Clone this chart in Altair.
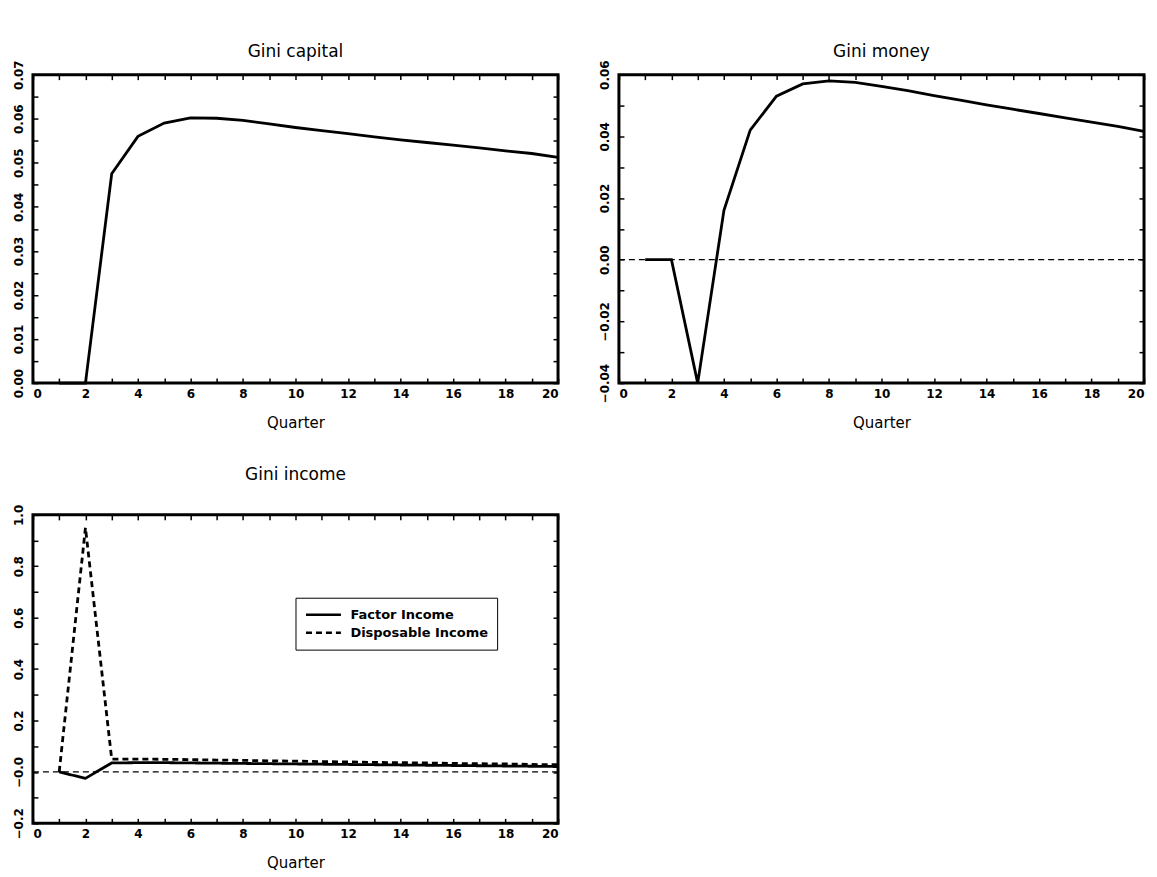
import altair as alt
import pandas as pd

quarters = list(range(1, 21))
gini_capital = [0.0, 0.0, 0.0475, 0.0560, 0.0590, 0.0602, 0.0601, 0.0596, 0.0588, 0.0580,
                0.0573, 0.0566, 0.0559, 0.0552, 0.0546, 0.0540, 0.0534, 0.0527, 0.0521, 0.0512]
gini_money = [0.0, 0.0, -0.040, 0.016, 0.042, 0.053, 0.057, 0.058, 0.0575, 0.0562,
              0.0548, 0.0532, 0.0517, 0.0502, 0.0488, 0.0474, 0.0460, 0.0446, 0.0432, 0.0416]
factor_income = [0.0, -0.025, 0.035, 0.036, 0.036, 0.035, 0.034, 0.033, 0.032, 0.031,
                 0.030, 0.029, 0.028, 0.027, 0.026, 0.025, 0.024, 0.023, 0.022, 0.021]
disposable_income = [0.0, 0.95, 0.050, 0.050, 0.049, 0.048, 0.046, 0.045, 0.043, 0.042,
                     0.040, 0.039, 0.037, 0.036, 0.035, 0.033, 0.032, 0.031, 0.029, 0.028]
series_names = ["Factor Income", "Disposable Income"]

FONT = "DejaVu Sans"
W, H = 526, 309
TICK = 5

x_major = list(range(0, 21, 2))
x_minor = list(range(0, 21, 1))


def steps(lo, hi, st):
    n = int(round((hi - lo) / st))
    return [round(lo + i * st, 4) for i in range(n + 1)]


def panel(df, title, ydom, ymajor, yminor, yfmt, zero_line=False, label_expr=None, dash=False,
          title_offset=-1):
    xs = alt.Scale(domain=[0, 20], nice=False, zero=False)
    ys = alt.Scale(domain=ydom, nice=False, zero=False)
    ax_lab = dict(labelFont=FONT, labelFontSize=12, labelFontWeight="bold", labelColor="black",
                  grid=False, domain=False, ticks=False)
    ykw = dict(orient="left", values=ymajor, labelAngle=270, title=None,
               labelPadding=7, labelBaseline="bottom", labelAlign="center", **ax_lab)
    if label_expr:
        yaxis = alt.Axis(labelExpr=label_expr, **ykw)
    else:
        yaxis = alt.Axis(format=yfmt, **ykw)
    xaxis = alt.Axis(orient="bottom", values=x_major, format="d", title="Quarter",
                     titleFont=FONT, titleFontSize=15, titleFontWeight="normal", titleColor="black",
                     labelPadding=5, titlePadding=16, **ax_lab)
    enc = dict(
        x=alt.X("quarter:Q", scale=xs, axis=xaxis),
        y=alt.Y("value:Q", scale=ys, axis=yaxis),
    )
    if dash:
        enc["strokeDash"] = alt.StrokeDash(
            "series:N",
            scale=alt.Scale(domain=series_names, range=[[1, 0], [6, 4]]),
            sort=series_names,
            legend=alt.Legend(orient="none", legendX=263, legendY=83, title=None,
                              strokeColor="black", fillColor="white", padding=9,
                              symbolType="stroke", symbolSize=1225, symbolStrokeWidth=2.5,
                              symbolStrokeColor="black", labelFont=FONT, labelFontSize=13,
                              labelFontWeight="bold", labelColor="black", rowPadding=2,
                              clipHeight=16, labelOffset=8),
        )
    main = alt.Chart(df).mark_line(color="black", strokeWidth=2.8).encode(**enc)

    tick_common = dict(labels=False, domain=False, grid=False, ticks=True, tickSize=TICK,
                       offset=-TICK, tickColor="black", tickWidth=1.5, title=None,
                       minExtent=0, labelPadding=0)
    inner1 = alt.Chart(df).mark_point(opacity=0).encode(
        x=alt.X("quarter:Q", scale=xs, axis=alt.Axis(orient="bottom", values=x_minor, **tick_common)),
        y=alt.Y("value:Q", scale=ys, axis=alt.Axis(orient="left", values=yminor, **tick_common)),
    )
    inner2 = alt.Chart(df).mark_point(opacity=0).encode(
        x=alt.X("quarter:Q", scale=xs, axis=alt.Axis(orient="top", values=x_minor, **tick_common)),
        y=alt.Y("value:Q", scale=ys, axis=alt.Axis(orient="right", values=yminor, **tick_common)),
    )
    layers = [main, inner1, inner2]
    if zero_line:
        zdf = pd.DataFrame({"y": [0.0]})
        zl = alt.Chart(zdf).mark_rule(color="black", strokeWidth=1.3, strokeDash=[6, 4]).encode(
            y=alt.Y("y:Q", scale=ys, axis=None))
        layers = [zl] + layers
    return alt.layer(*layers).resolve_axis(x="independent", y="independent").properties(
        width=W, height=H,
        title=alt.TitleParams(title, font=FONT, fontSize=17, fontWeight="normal", color="black",
                              offset=title_offset),
    )


df1 = pd.DataFrame({"quarter": quarters, "value": gini_capital, "series": "Gini capital"})
df2 = pd.DataFrame({"quarter": quarters, "value": gini_money, "series": "Gini money"})
df3 = pd.concat([
    pd.DataFrame({"quarter": quarters, "value": factor_income, "series": series_names[0]}),
    pd.DataFrame({"quarter": quarters, "value": disposable_income, "series": series_names[1]}),
], ignore_index=True)

p1 = panel(df1, "Gini capital", [0, 0.07], steps(0, 0.07, 0.01), steps(0, 0.07, 0.005), ".2f")
p2 = panel(df2, "Gini money", [-0.04, 0.06], steps(-0.04, 0.06, 0.02), steps(-0.04, 0.06, 0.01), ".2f",
           zero_line=True)
p3 = panel(df3, "Gini income", [-0.2, 1.0], steps(-0.2, 1.0, 0.2), steps(-0.2, 1.0, 0.1), ".1f",
           zero_line=True, label_expr="datum.value == 0 ? '−0.0' : format(datum.value, '.1f')", dash=True,
           title_offset=20)

chart = alt.vconcat(
    alt.hconcat(p1, p2, spacing=31),
    p3,
    spacing=32,
).resolve_scale(strokeDash="independent").configure(
    background="white", padding={"left": 11, "top": 40, "right": 5, "bottom": 5}
).configure_view(
    stroke="black", strokeWidth=3
)

chart.save("out.html", embed_options={"renderer": "svg", "actions": False})
